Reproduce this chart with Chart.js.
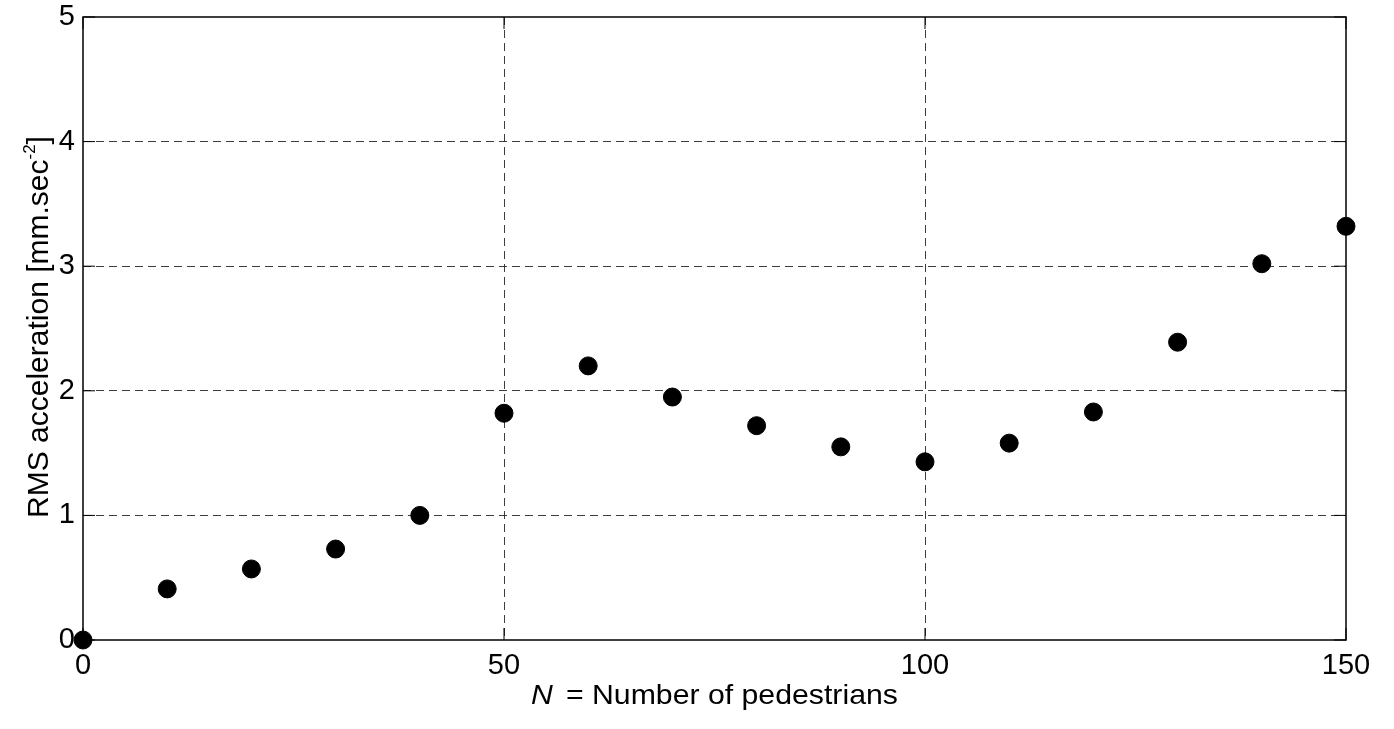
<!DOCTYPE html>
<html lang="en">
<head>
<meta charset="utf-8"/>
<title>RMS acceleration vs number of pedestrians</title>
<script src="https://cdn.jsdelivr.net/npm/chart.js@4.4.0/dist/chart.umd.min.js"></script>
<style>
    html, body { margin: 0; padding: 0; background: #fff; }
    #wrap { width: 1394px; height: 729px; }
</style>
</head>
<body>
<div id="wrap"><canvas id="chart1"></canvas></div>

<script>
    // data
    var pedestrians = [0, 10, 20, 30, 40, 50, 60, 70, 80, 90, 100, 110, 120, 130, 140, 150];
    var rmsAccel = [0, 0.41, 0.57, 0.73, 1.00, 1.82, 2.20, 1.95, 1.72, 1.55, 1.43, 1.58, 1.83, 2.39, 3.02, 3.32];

    var xRange = [0, 150];
    var yRange = [0, 5];
    var xStep = 50;
    var yStep = 1;

    var yTitleMain = 'RMS acceleration [mm.sec';
    var yTitleSup = '-2';
    var yTitleEnd = ']';
    var xTitleVar = 'N';
    var xTitleRest = '= Number of pedestrians';

    var FONT = '"Liberation Sans", Arial, sans-serif';
    var TICKSIZE = 29;
    var TITLESIZE = 28;

    var points = pedestrians.map(function (n, i) {
        return {x: n, y: rmsAccel[i]};
    });

    function gridColor(ctx, lo, hi) {
        var v = ctx.tick ? ctx.tick.value : null;
        if (v === lo || v === hi) return 'rgba(0,0,0,0)';
        return 'rgba(40,40,40,0.9)';
    }

    // box, inward ticks and the two axis titles (MATLAB look)
    var frame = {
        id: 'frame',
        beforeDatasetsDraw: function (chart) {
            var ctx = chart.ctx, a = chart.chartArea;
            var x = chart.scales.x, y = chart.scales.y;
            var len = 12;
            ctx.save();
            ctx.strokeStyle = '#000';
            ctx.lineWidth = 1.5;
            ctx.strokeRect(a.left, a.top, a.right - a.left, a.bottom - a.top);
            ctx.lineWidth = 1;
            ctx.beginPath();
            x.ticks.forEach(function (t) {
                var px = x.getPixelForValue(t.value);
                ctx.moveTo(px, a.bottom); ctx.lineTo(px, a.bottom - len);
                ctx.moveTo(px, a.top); ctx.lineTo(px, a.top + len);
            });
            y.ticks.forEach(function (t) {
                var py = y.getPixelForValue(t.value);
                ctx.moveTo(a.left, py); ctx.lineTo(a.left + len, py);
                ctx.moveTo(a.right, py); ctx.lineTo(a.right - len, py);
            });
            ctx.stroke();
            ctx.restore();
        },
        afterDraw: function (chart) {
            var ctx = chart.ctx, a = chart.chartArea;
            var f = TITLESIZE + 'px ' + FONT;
            var fi = 'italic ' + TITLESIZE + 'px ' + FONT;
            ctx.save();
            ctx.fillStyle = '#000';
            ctx.textBaseline = 'alphabetic';

            // x title, a little wide like the original
            var sxf = 1.08;
            ctx.font = fi;
            var wN = ctx.measureText(xTitleVar).width;
            ctx.font = f;
            var gap = 12;
            var wR = ctx.measureText(xTitleRest).width;
            var cx = (a.left + a.right) / 2;
            ctx.save();
            ctx.translate(cx, 704);
            ctx.scale(sxf, 1);
            var sx = -(wN + gap + wR) / 2;
            ctx.font = fi;
            ctx.fillText(xTitleVar, sx, 0);
            ctx.font = f;
            ctx.fillText(xTitleRest, sx + wN + gap, 0);
            ctx.restore();

            // y title, rotated, with superscript
            var yf = (TITLESIZE + 2) + 'px ' + FONT;
            var fs = Math.round(TITLESIZE * 0.62) + 'px ' + FONT;
            ctx.font = yf;
            var w1 = ctx.measureText(yTitleMain).width;
            var w3 = ctx.measureText(yTitleEnd).width;
            ctx.font = fs;
            var w2 = ctx.measureText(yTitleSup).width;
            var total = w1 + w2 + w3;
            var cy = 327;
            ctx.translate(48, cy);
            ctx.rotate(-Math.PI / 2);
            var s = -total / 2;
            ctx.font = yf;
            ctx.fillText(yTitleMain, s, 0);
            ctx.font = fs;
            ctx.fillText(yTitleSup, s + w1, -TITLESIZE * 0.45);
            ctx.font = yf;
            ctx.fillText(yTitleEnd, s + w1 + w2, 0);
            ctx.restore();
        }
    };

    var ch1 = document.getElementById('chart1').getContext('2d');
    var chart1 = new Chart(ch1, {
        type: 'scatter',
        data: {
            datasets: [{
                label: 'RMS acceleration',
                data: points,
                backgroundColor: '#000',
                borderColor: '#000',
                pointRadius: 9,
                pointHoverRadius: 9,
                clip: false
            }]
        },
        options: {
            responsive: true,
            maintainAspectRatio: false,
            animation: false,
            events: [],
            layout: { padding: { top: 17, right: 48, left: 0, bottom: 0 } },
            plugins: {
                legend: { display: false },
                tooltip: { enabled: false }
            },
            scales: {
                x: {
                    type: 'linear',
                    min: xRange[0],
                    max: xRange[1],
                    border: { display: false, dash: [8, 5] },
                    grid: {
                        color: function (c) { return gridColor(c, xRange[0], xRange[1]); },
                        lineWidth: 1,
                        drawTicks: false
                    },
                    ticks: {
                        stepSize: xStep,
                        color: '#000',
                        padding: 9,
                        maxRotation: 0,
                        font: { family: FONT, size: TICKSIZE }
                    },
                    afterFit: function (s) {
                        s.height = 89;
                        s.paddingLeft = 0;
                        s.paddingRight = 0;
                    }
                },
                y: {
                    type: 'linear',
                    min: yRange[0],
                    max: yRange[1],
                    border: { display: false, dash: [8, 5] },
                    grid: {
                        color: function (c) { return gridColor(c, yRange[0], yRange[1]); },
                        lineWidth: 1,
                        drawTicks: false
                    },
                    ticks: {
                        stepSize: yStep,
                        color: '#000',
                        padding: 8,
                        font: { family: FONT, size: TICKSIZE }
                    },
                    afterFit: function (s) {
                        s.width = 83;
                        s.paddingTop = 0;
                        s.paddingBottom = 0;
                    }
                }
            }
        },
        plugins: [frame]
    });
</script>
</body>
</html>
